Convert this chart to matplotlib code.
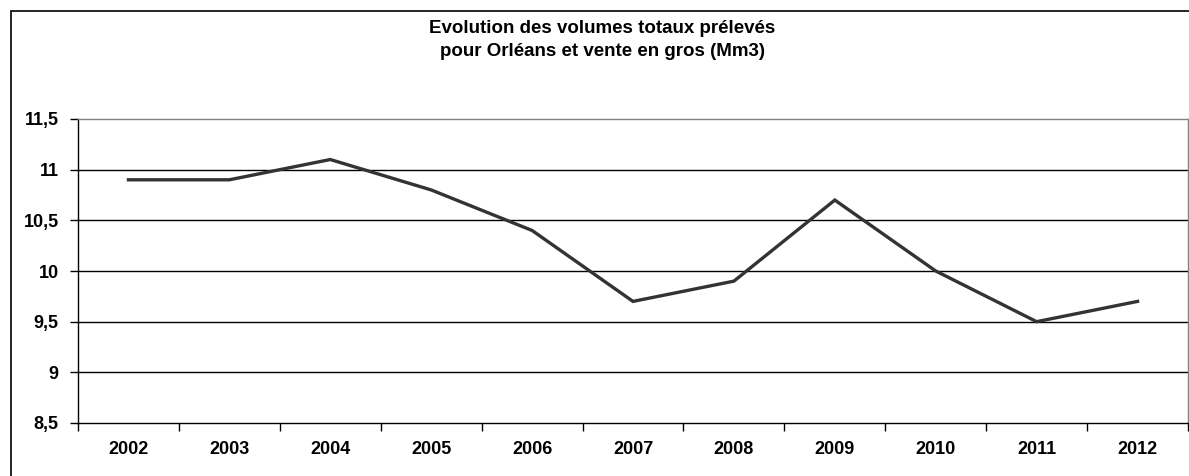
import numpy as np
import matplotlib
matplotlib.use("Agg")
import matplotlib.pyplot as plt
from matplotlib.patches import Rectangle
from matplotlib.ticker import FixedLocator, NullFormatter

# Data
annees = ['2002', '2003', '2004', '2005', '2006', '2007', '2008', '2009', '2010', '2011', '2012']
volumes = [10.9, 10.9, 11.1, 10.8, 10.4, 9.7, 9.9, 10.7, 10.0, 9.5, 9.7]
y_ticks = [8.5, 9, 9.5, 10, 10.5, 11, 11.5]
y_labels = ['8,5', '9', '9,5', '10', '10,5', '11', '11,5']
titre = "Evolution des volumes totaux prélevés\npour Orléans et vente en gros (Mm3)"

plt.rcParams['font.family'] = ['Liberation Sans', 'DejaVu Sans']
plt.rcParams['font.weight'] = 'bold'

fig = plt.figure(figsize=(11.89, 4.76), dpi=100)
ax = fig.add_axes([78 / 1189, 1 - 423 / 476, 1110 / 1189, (423 - 119) / 476])

# outer chart border (right/bottom run off the picture)
fig.patches.append(Rectangle((11 / 1189, -0.05), 1.1, 1 - 11 / 476 + 0.05,
                             transform=fig.transFigure, fill=False,
                             edgecolor='black', linewidth=1.2))

x = np.arange(len(annees))
ax.plot(x, volumes, color='#333333', linewidth=2.4, solid_joinstyle='miter')

ax.set_xlim(-0.5, len(annees) - 0.5)
ax.set_ylim(8.5, 11.5)

ax.set_yticks(y_ticks)
ax.set_yticklabels(y_labels, fontsize=13, fontweight='bold')
ax.tick_params(axis='y', direction='out', length=6, width=1, pad=8)
for v in y_ticks[1:-1]:
    ax.axhline(v, color='black', linewidth=1, zorder=0)

# category boundaries as ticks, labels centred
ax.xaxis.set_major_locator(FixedLocator(np.arange(len(annees) + 1) - 0.5))
ax.xaxis.set_major_formatter(NullFormatter())
ax.xaxis.set_minor_locator(FixedLocator(x))
ax.set_xticklabels(annees, minor=True, fontsize=13, fontweight='bold')
ax.tick_params(axis='x', which='major', direction='out', length=6, width=1)
ax.tick_params(axis='x', which='minor', length=0, pad=13)

ax.spines['left'].set_color('black')
ax.spines['bottom'].set_color('black')
ax.spines['top'].set_color('#808080')
ax.spines['right'].set_color('#808080')
for s in ax.spines.values():
    s.set_linewidth(1)

fig.text(602 / 1189, 1 - 40 / 476, titre, ha='center', va='center',
         fontsize=13.5, fontweight='bold', linespacing=1.45)

fig.savefig('out.png', dpi=100)
